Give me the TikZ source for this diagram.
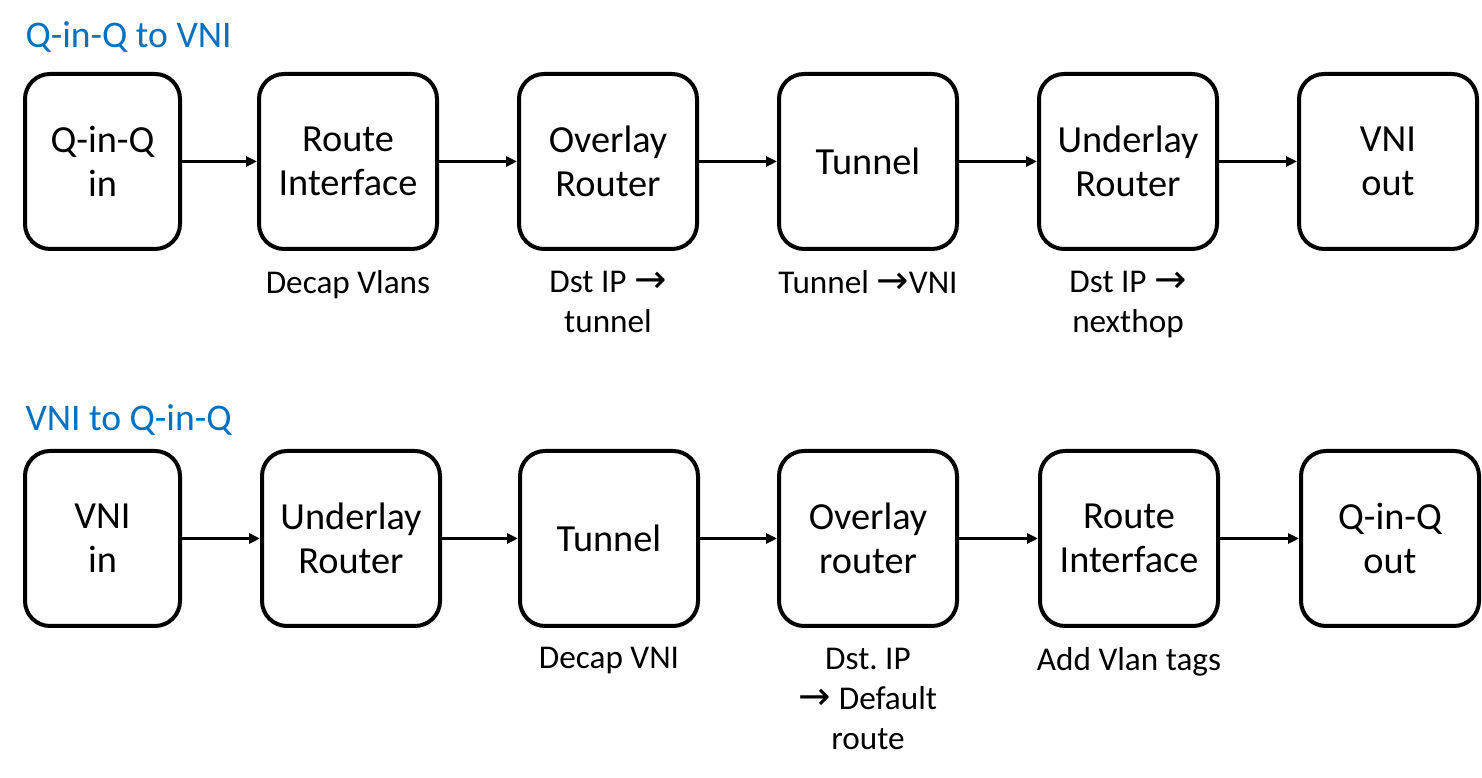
\documentclass[tikz,border=0pt]{standalone}
\usepackage{fontspec}
\setmainfont{Carlito}
\newfontfamily\arrowfont{DejaVu Sans}
\usepackage{tikz}
\usetikzlibrary{positioning, calc}
\usetikzlibrary{arrows.meta}
\newcommand{\toarrow}{{\arrowfont\fontsize{22}{23}\selectfont →}}

\begin{document}
\begin{tikzpicture}[node distance=1.56cm, align=center, >={Triangle[length=0.22cm, width=0.2cm]}, line width=0.06cm]
        % Define colors
        \definecolor{titleblue}{RGB}{0,112,192}
        \tikzset{
            box/.style={draw, rounded corners=0.5cm, line width=0.08cm, minimum width=3.56cm, minimum height=3.5cm, font=\fontsize{21.8}{25}\selectfont},
            note/.style={font=\fontsize{18.9}{22.6}\selectfont, inner sep=0pt},
            heading/.style={anchor=west, inner sep=0pt, text=titleblue, font=\fontsize{21.4}{25}\selectfont}
        }
        \useasboundingbox (0,0) rectangle (29.64,15.56);

        % Titles
        \node[heading] (titletop) at (0.48,14.82) {Q-in-Q to VNI};
        \node[heading] (titlebot) at (0.48,7.16) {VNI to Q-in-Q};

        % Nodes (Q-in-Q to VNI)
        \node[box, minimum width=3.1cm] (qinqin) at (2.05,12.33) {Q-in-Q\\in};
        \node[box, right=1.5cm of qinqin] (routeif) {Route\\Interface};
        \node[box, right=of routeif] (overlay) {Overlay\\Router};
        \node[box, right=of overlay] (tunnel) {Tunnel};
        \node[box, right=of tunnel] (underlay) {Underlay\\Router};
        \node[box, right=of underlay] (vniout) {VNI\\out};

        % Nodes (VNI to Q-in-Q)
        \node[box, minimum width=3.1cm, below=3.96cm of qinqin] (vniin) {VNI\\in};
        \node[box, right=1.56cm of vniin] (underlayb) {Underlay\\Router};
        \node[box, right=1.52cm of underlayb] (tunnelb) {Tunnel};
        \node[box, right=1.54cm of tunnelb] (overlayb) {Overlay\\router};
        \node[box, right=1.58cm of overlayb] (routeifb) {Route\\Interface};
        \node[box, right=1.58cm of routeifb] (qinqout) {Q-in-Q\\out};

        % Notes under the boxes
        \node[note, below=0.36cm of routeif] (decapvlans) {Decap Vlans};
        \node[note, below=0.38cm of overlay] (dsttunnel) {Dst IP \toarrow\\tunnel};
        \node[note, below=0.36cm of tunnel] (tunnelvni) {Tunnel \toarrow VNI};
        \node[note, below=0.38cm of underlay] (dstnexthop) {Dst IP \toarrow\\nexthop};
        \node[note, below=0.36cm of tunnelb] (decapvni) {Decap VNI};
        \node[note, below=0.38cm of overlayb] (dstdefault) {Dst.\ IP\\\toarrow{} Default\\route};
        \node[note, below=0.36cm of routeifb] (addvlan) {Add Vlan tags};

        % Edges
        \foreach \a/\b in {qinqin/routeif, routeif/overlay, overlay/tunnel, tunnel/underlay, underlay/vniout,
                           vniin/underlayb, underlayb/tunnelb, tunnelb/overlayb, overlayb/routeifb, routeifb/qinqout} {
            \draw[->] (\a) -- (\b);
        }
    \end{tikzpicture}
\end{document}
